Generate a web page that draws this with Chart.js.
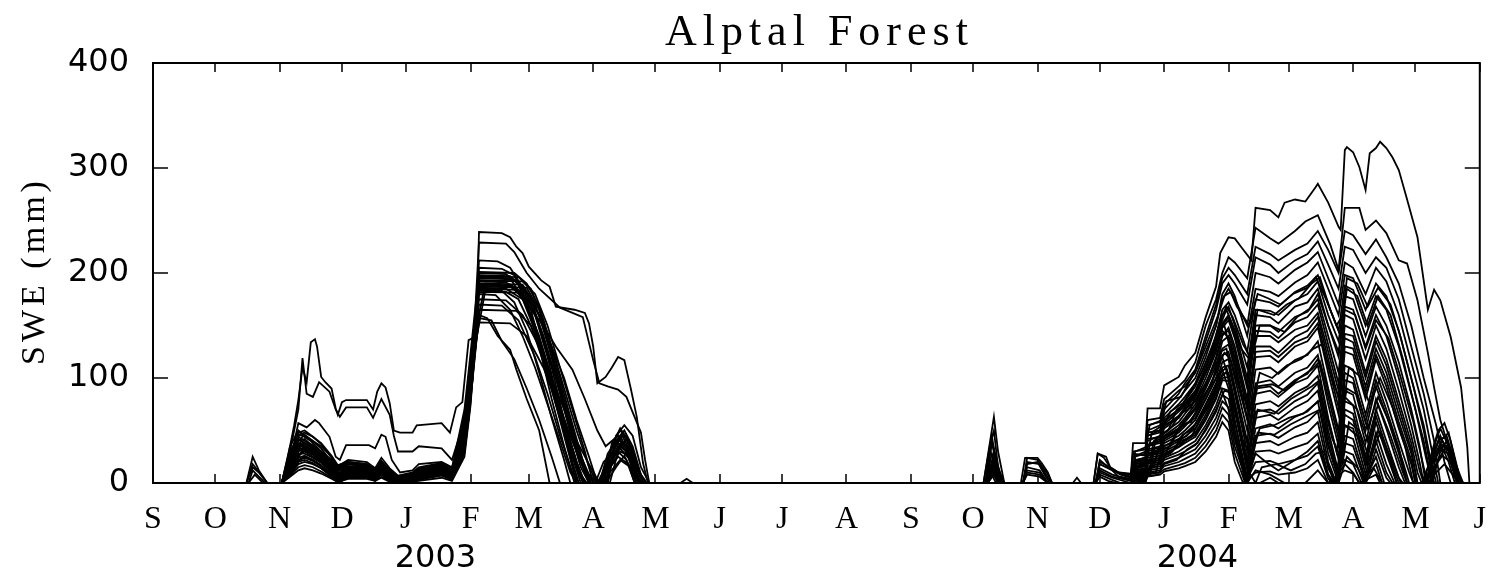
<!DOCTYPE html>
<html>
<head>
<meta charset="utf-8">
<title>Alptal Forest</title>
<script src="https://cdn.jsdelivr.net/npm/chart.js@4.4.0/dist/chart.umd.min.js"></script>
<style>
  html, body { margin: 0; padding: 0; background: #fff; }
  canvas { display: block; }
</style>
</head>
<body>
<canvas id="sweChart" width="1495" height="573"></canvas>
<script>
// x axis: days since 1 Sep 2002, y axis: snow water equivalent in mm
const monthStarts = [0, 30, 61, 91, 122, 153, 181, 212, 242, 273, 303, 334, 365, 395, 426, 456, 487, 518, 547, 578, 608, 639];
const monthLetters = ['S', 'O', 'N', 'D', 'J', 'F', 'M', 'A', 'M', 'J', 'J', 'A', 'S', 'O', 'N', 'D', 'J', 'F', 'M', 'A', 'M', 'J'];
const sweTicks = [0, 100, 200, 300, 400];
const years = ['2003', '2004'];
const yearDays = [136, 503];

// winter 2002/03, one array per site: [day, SWE]
const s03_01 = [[62,0],[65,25],[68,55],[70,79],[72,110],[74,96],[76,134],[78,137],[79,130],[81,101],[83,96],[86,90],[88,71],[89,65],[91,77],[93,79],[103,79],[106,70],[108,87],[110,95],[112,91],[114,76],[116,50],[119,48],[125,48],[127,55],[139,57],[143,48],[146,72],[149,77],[152,136],[155,139],[156,155],[157,239],[168,238],[172,234],[175,225],[178,219],[181,206],[187,193],[191,187],[194,168],[203,165],[208,162],[210,152],[212,130],[214,95],[218,101],[221,110],[224,120],[227,117],[230,91],[233,63],[236,19],[238,3],[239,0]];
const s03_02 = [[62,0],[66,30],[70,70],[72,119],[74,85],[77,82],[80,96],[85,87],[88,70],[90,63],[93,72],[103,72],[106,62],[110,80],[114,65],[116,45],[118,30],[125,30],[128,35],[139,33],[144,22],[150,60],[154,120],[157,229],[170,228],[174,220],[180,200],[186,185],[196,167],[207,158],[212,117],[215,95],[219,92],[224,89],[228,82],[235,48],[237,22],[239,0]];
const s03_03 = [[62,0],[66,20],[70,57],[74,53],[78,60],[80,57],[85,44],[88,25],[90,22],[93,36],[104,36],[107,33],[110,46],[112,44],[115,22],[119,10],[125,12],[128,18],[139,20],[144,15],[150,55],[154,110],[157,212],[166,211],[172,205],[180,180],[186,160],[192,130],[198,100],[204,60],[210,25],[214,0]];
const s03_04 = [[62,0],[66,15],[72,39],[76,36],[81,28],[87,15],[90,8],[94,18],[103,16],[108,12],[110,20],[115,8],[119,3],[125,5],[139,10],[144,8],[150,40],[154,100],[157,205],[168,204],[174,198],[180,170],[186,130],[192,80],[198,35],[203,0]];
const s03_05 = [[45,0],[48,25],[51,12],[55,0],[62,0],[66,35],[70,50],[73,45],[77,40],[81,35],[86,25],[89,16],[94,22],[103,20],[107,14],[110,24],[114,14],[118,7],[125,10],[128,15],[139,19],[144,14],[150,70],[153,125],[157,200],[170,199],[176,190],[182,165],[188,120],[194,75],[200,30],[204,0],[215,0],[219,22],[224,38],[228,30],[233,5],[235,0]];
const s03_06 = [[45,0],[48,18],[52,8],[55,0],[62,0],[66,28],[70,46],[73,48],[77,44],[81,38],[86,26],[89,17],[94,20],[103,18],[107,13],[110,21],[114,12],[118,6],[125,8],[128,13],[139,17],[144,12],[150,60],[153,115],[157,198],[172,197],[178,185],[184,160],[190,120],[196,70],[202,25],[206,0],[214,0],[218,15],[222,32],[226,48],[230,34],[234,10],[236,0]];
const s03_07 = [[46,0],[48,12],[51,6],[54,0],[62,0],[66,22],[70,40],[73,42],[77,35],[81,30],[86,20],[89,12],[94,18],[103,16],[107,12],[110,19],[114,10],[118,4],[125,7],[128,12],[139,16],[144,11],[150,55],[153,110],[157,195],[174,194],[180,180],[186,150],[192,110],[198,60],[204,20],[208,0],[216,0],[220,25],[224,42],[228,36],[232,14],[235,0]];
const s03_08 = [[62,0],[66,18],[70,35],[73,38],[77,32],[81,26],[86,16],[89,9],[94,15],[103,14],[107,9],[110,16],[114,8],[118,3],[125,6],[128,11],[139,15],[144,10],[150,50],[153,105],[157,193],[176,192],[182,175],[188,140],[194,100],[200,55],[206,15],[210,0],[217,0],[221,18],[225,30],[229,26],[233,6],[235,0]];
const s03_09 = [[46,0],[49,8],[53,0],[62,0],[66,15],[70,30],[73,33],[77,28],[81,22],[86,13],[89,6],[94,13],[103,12],[107,8],[110,15],[114,7],[118,2],[125,4],[128,10],[139,14],[144,9],[150,45],[153,100],[157,192],[170,191],[176,184],[182,160],[188,125],[194,85],[200,45],[206,8],[209,0],[216,0],[220,30],[225,45],[230,25],[234,0]];
const s03_10 = [[62,0],[66,12],[70,26],[73,30],[77,25],[81,20],[86,10],[89,4],[94,10],[103,10],[107,6],[110,12],[114,5],[118,0],[125,3],[128,8],[139,12],[144,7],[150,40],[153,95],[157,190],[178,189],[184,170],[190,135],[196,90],[202,45],[208,10],[211,0],[217,0],[221,35],[225,52],[229,40],[234,10],[237,0],[254,0],[257,4],[260,0]];
const s03_11 = [[45,0],[48,15],[51,10],[55,0],[62,0],[66,30],[70,44],[73,40],[77,36],[81,30],[86,22],[89,14],[94,19],[103,17],[107,11],[110,20],[114,12],[118,5],[125,8],[128,13],[139,17],[144,12],[150,65],[153,118],[157,188],[172,187],[178,178],[184,150],[190,110],[196,65],[202,20],[205,0],[213,0],[217,20],[221,28],[226,45],[230,30],[234,0]];
const s03_12 = [[62,0],[66,10],[70,22],[73,25],[77,22],[81,17],[86,8],[89,3],[94,8],[103,8],[107,5],[110,10],[114,4],[118,0],[125,2],[128,6],[139,10],[144,6],[150,35],[153,90],[157,187],[180,186],[186,165],[192,125],[198,80],[204,38],[210,5],[213,0],[218,0],[222,28],[226,40],[231,22],[236,0]];
const s03_13 = [[62,0],[66,8],[70,18],[73,20],[77,18],[81,14],[86,6],[89,2],[94,6],[103,6],[107,3],[110,8],[114,2],[118,0],[125,1],[128,4],[139,8],[144,4],[150,30],[153,85],[157,185],[176,184],[182,170],[188,140],[194,100],[200,60],[206,22],[212,0],[218,0],[222,33],[226,46],[230,38],[234,12],[237,0]];
const s03_14 = [[62,0],[66,20],[70,38],[73,36],[77,30],[81,24],[86,14],[89,7],[94,14],[103,13],[107,9],[110,15],[114,8],[118,2],[125,5],[128,10],[139,14],[144,9],[150,48],[153,102],[157,184],[168,183],[174,172],[180,145],[186,105],[192,62],[198,22],[201,0],[214,0],[219,12],[224,25],[229,18],[232,0]];
const s03_15 = [[62,0],[66,25],[70,42],[73,38],[77,33],[81,27],[86,18],[89,11],[94,16],[103,15],[107,10],[110,17],[114,10],[118,4],[125,7],[128,12],[139,16],[144,11],[150,52],[153,108],[157,182],[180,181],[186,160],[192,120],[198,75],[204,35],[210,8],[214,0],[219,0],[223,40],[227,50],[231,35],[235,8],[238,0]];
const s03_16 = [[62,0],[66,14],[70,28],[73,28],[77,24],[81,19],[86,11],[89,5],[94,11],[103,11],[107,7],[110,13],[114,6],[118,1],[125,3],[128,8],[139,12],[144,7],[150,42],[153,96],[157,180],[165,179],[172,165],[178,140],[184,110],[190,75],[196,40],[201,10],[204,0],[215,0],[219,28],[223,40],[227,33],[231,20],[235,0]];
const s03_17 = [[62,0],[66,12],[70,24],[73,26],[77,22],[81,16],[86,9],[89,3],[94,9],[103,9],[107,5],[110,11],[114,5],[118,0],[125,2],[128,7],[139,11],[144,6],[150,38],[153,92],[157,160],[161,157],[166,140],[172,127],[175,108],[180,80],[186,50],[191,0]];
const s03_18 = [[62,0],[66,9],[70,20],[73,22],[77,19],[81,14],[86,7],[89,2],[94,7],[103,7],[107,4],[110,9],[114,3],[118,0],[125,1],[128,5],[139,9],[144,5],[150,33],[153,88],[157,157],[163,155],[168,135],[174,118],[180,90],[186,60],[192,25],[196,0]];
const s03_19 = [[62,0],[66,16],[70,32],[73,34],[77,29],[81,23],[86,13],[89,6],[94,14],[103,13],[107,8],[110,15],[114,8],[118,2],[125,4],[128,9],[139,13],[144,8],[150,44],[153,98],[157,196],[172,195],[180,170],[188,150],[194,130],[202,108],[208,80],[214,50],[218,35],[224,45],[230,20],[235,0]];
const s03_20 = [[62,0],[66,18],[70,34],[73,36],[77,31],[81,25],[86,15],[89,8],[94,15],[103,13],[107,9],[110,16],[114,9],[118,3],[125,5],[128,10],[139,14],[144,9],[150,47],[153,103],[157,175],[170,174],[178,160],[186,130],[192,100],[198,70],[204,40],[210,18],[215,0],[219,0],[223,45],[227,55],[231,45],[235,15],[239,0]];
const s03_21 = [[62,0],[66,11],[70,21],[73,24],[77,21],[81,16],[86,8],[89,2],[94,8],[103,8],[107,4],[110,10],[114,4],[118,0],[125,2],[128,6],[139,11],[144,6],[150,37],[153,90],[157,170],[168,169],[176,155],[184,120],[190,85],[196,45],[202,10],[205,0],[216,0],[220,10],[225,22],[230,15],[233,0]];
const s03_22 = [[62,0],[66,7],[70,15],[73,17],[77,15],[81,11],[86,5],[89,1],[94,5],[103,5],[107,2],[110,6],[114,2],[118,0],[125,0],[128,3],[139,7],[144,3],[150,28],[153,80],[157,165],[175,164],[182,150],[188,120],[194,85],[200,50],[206,20],[211,0],[218,0],[222,25],[226,38],[230,30],[234,0]];
const s03_23 = [[62,0],[66,22],[70,36],[73,34],[77,28],[81,22],[86,12],[89,5],[94,12],[103,12],[107,7],[110,14],[114,7],[118,1],[125,4],[128,9],[139,14],[144,8],[150,46],[153,100],[157,153],[172,152],[180,140],[188,110],[196,70],[204,30],[210,0],[218,0],[223,15],[227,26],[231,10],[233,0]];
const s03_24 = [[62,0],[66,13],[70,27],[73,31],[77,27],[81,21],[86,12],[89,6],[94,12],[103,12],[107,8],[110,14],[114,7],[118,2],[125,4],[128,9],[139,13],[144,8],[150,43],[153,97],[157,193],[178,192],[184,180],[190,150],[196,110],[202,70],[208,30],[212,0],[217,0],[221,38],[225,50],[228,44],[232,25],[236,0]];
const s03_25 = [[62,0],[66,17],[70,31],[73,32],[77,27],[81,21],[86,12],[89,5],[94,13],[103,12],[107,8],[110,15],[114,7],[118,2],[125,4],[128,9],[139,13],[144,8],[150,44],[153,99],[157,201],[174,200],[180,190],[186,168],[192,130],[198,90],[204,50],[210,15],[214,0],[220,0],[224,30],[228,42],[232,20],[236,0]];
const s03_26 = [[62,0],[66,24],[70,45],[73,46],[77,40],[81,33],[86,20],[89,12],[94,18],[103,16],[107,11],[110,18],[114,10],[118,4],[125,7],[128,12],[139,16],[144,11],[150,58],[153,112],[157,197],[176,196],[182,185],[188,155],[194,115],[200,70],[206,28],[210,0]];
const s03_27 = [[62,0],[66,26],[70,48],[73,50],[77,44],[81,37],[86,24],[89,15],[94,20],[103,18],[107,12],[110,20],[114,12],[118,6],[125,9],[128,14],[139,18],[144,12],[150,62],[153,118],[157,189],[173,188],[180,170],[186,140],[192,100],[198,60],[204,20],[208,0],[216,0],[220,20],[225,35],[229,28],[233,0]];
const s03_28 = [[62,0],[66,6],[70,12],[73,14],[77,12],[81,9],[86,4],[89,1],[94,4],[103,4],[107,2],[110,5],[114,1],[118,0],[128,2],[139,5],[144,2],[150,25],[153,75],[157,186],[170,185],[178,175],[184,145],[190,105],[196,65],[202,28],[207,0],[216,0],[220,20],[224,35],[229,24],[233,0]];
const s03_29 = [[62,0],[65,12],[69,28],[72,45],[76,40],[80,32],[84,22],[88,12],[92,16],[100,14],[105,10],[110,17],[113,10],[117,4],[122,6],[130,12],[138,15],[143,10],[148,30],[152,70],[156,150],[160,190],[172,189],[178,176],[184,148],[190,108],[196,62],[202,18],[205,0]];
const s03_30 = [[62,0],[65,8],[69,20],[72,32],[76,30],[80,24],[84,16],[88,8],[92,12],[100,11],[105,7],[110,13],[113,7],[117,2],[122,4],[130,9],[138,12],[143,7],[148,22],[152,60],[156,140],[160,183],[170,182],[176,175],[182,150],[188,115],[194,75],[200,35],[206,5],[208,0],[216,0],[220,18],[224,30],[228,22],[232,0]];

// winter 2003/04
const s04_01 = [[400,0],[402,25],[405,63],[407,30],[410,0],[418,0],[420,24],[426,24],[428,19],[431,10],[433,0],[453,0],[455,28],[459,25],[461,15],[465,10],[471,8],[472,38],[478,38],[479,71],[485,71],[487,93],[494,101],[497,112],[502,124],[507,158],[512,187],[514,219],[518,234],[521,233],[524,225],[529,212],[531,262],[538,260],[542,253],[545,267],[550,270],[555,268],[560,282],[561,285],[566,267],[571,244],[572,241],[574,317],[575,320],[578,315],[581,301],[584,279],[586,314],[589,319],[591,325],[594,319],[597,310],[600,298],[604,270],[609,234],[614,165],[617,184],[620,174],[625,139],[630,91],[633,34],[634,0]];
const s04_02 = [[401,0],[404,45],[406,20],[409,0],[419,0],[421,20],[427,18],[431,5],[433,0],[454,0],[456,22],[460,15],[466,8],[471,5],[472,30],[478,32],[479,60],[485,62],[487,80],[494,92],[497,98],[502,115],[507,150],[512,175],[515,200],[518,215],[521,210],[527,195],[531,243],[538,233],[542,228],[550,240],[555,249],[561,255],[564,241],[567,227],[571,203],[574,262],[581,262],[584,241],[589,250],[594,238],[600,212],[604,209],[609,174],[614,124],[617,91],[620,60],[625,28],[628,0]];
const s04_03 = [[401,0],[404,38],[407,12],[409,0],[472,0],[473,25],[478,28],[479,50],[485,55],[487,70],[494,85],[497,95],[502,108],[507,140],[512,170],[515,195],[518,205],[521,198],[527,180],[531,225],[538,218],[542,212],[550,222],[556,228],[561,240],[566,222],[571,200],[574,240],[578,236],[584,218],[589,232],[594,215],[600,190],[606,150],[612,100],[618,55],[622,20],[625,0]];
const s04_04 = [[402,0],[405,30],[408,0],[454,0],[456,18],[462,12],[471,6],[472,28],[478,26],[479,55],[485,58],[487,75],[494,88],[497,92],[502,105],[507,135],[512,165],[515,190],[518,198],[521,190],[527,170],[531,215],[538,208],[542,200],[550,212],[556,218],[561,230],[566,208],[571,185],[574,225],[578,222],[584,200],[589,215],[594,205],[600,175],[606,130],[612,85],[617,40],[620,0]];
const s04_05 = [[472,0],[473,20],[478,22],[479,45],[485,50],[487,65],[494,80],[497,88],[502,100],[507,125],[512,150],[515,175],[518,185],[521,175],[527,150],[531,200],[538,196],[542,190],[550,203],[556,210],[561,220],[566,195],[571,170],[574,210],[578,205],[584,180],[589,205],[594,192],[600,160],[606,115],[612,70],[616,30],[619,0]];
const s04_06 = [[401,0],[404,28],[407,10],[409,0],[419,0],[421,15],[427,12],[431,0],[472,0],[473,22],[478,24],[479,48],[485,50],[487,62],[494,75],[497,82],[502,95],[507,120],[512,150],[515,180],[518,190],[521,178],[527,140],[531,185],[538,182],[542,178],[550,191],[556,198],[561,210],[566,185],[571,160],[574,198],[578,195],[584,165],[589,190],[594,178],[600,145],[606,100],[612,55],[615,25],[618,0]];
const s04_07 = [[472,0],[473,18],[478,20],[479,40],[485,45],[487,58],[494,70],[497,78],[502,92],[507,115],[512,140],[515,165],[518,172],[521,160],[527,125],[531,175],[538,172],[542,168],[550,182],[556,188],[561,198],[566,170],[571,145],[574,188],[578,184],[584,150],[589,178],[594,165],[600,130],[606,85],[612,40],[615,10],[617,0]];
const s04_08 = [[402,0],[405,22],[407,8],[409,0],[454,0],[456,14],[462,8],[471,3],[472,20],[478,22],[479,42],[485,44],[487,56],[494,68],[497,74],[502,86],[507,110],[512,135],[515,160],[518,168],[521,150],[527,110],[531,165],[538,164],[542,160],[550,174],[556,180],[561,192],[566,160],[571,135],[574,178],[578,175],[584,140],[589,168],[594,150],[600,115],[606,70],[610,35],[613,0]];
const s04_09 = [[472,0],[473,15],[478,17],[479,36],[485,40],[487,52],[494,62],[497,70],[502,82],[507,105],[512,130],[515,152],[518,160],[521,145],[527,100],[531,160],[538,158],[542,152],[550,168],[556,172],[561,185],[566,150],[571,120],[574,168],[578,165],[584,130],[589,160],[594,140],[600,100],[606,55],[610,20],[612,0]];
const s04_10 = [[401,0],[404,20],[407,5],[409,0],[419,0],[421,12],[427,10],[431,0],[472,0],[473,16],[478,18],[479,35],[485,38],[487,48],[494,58],[497,66],[502,78],[507,100],[512,125],[515,148],[518,155],[521,138],[527,90],[531,150],[538,150],[542,144],[550,158],[556,163],[561,175],[566,140],[571,105],[574,160],[578,156],[584,118],[589,150],[594,128],[600,88],[606,45],[610,12],[612,0]];
const s04_11 = [[472,0],[473,12],[478,14],[479,30],[485,34],[487,45],[494,55],[497,62],[502,75],[507,95],[512,118],[515,140],[518,148],[521,130],[527,80],[531,145],[538,144],[542,138],[550,153],[556,158],[561,170],[566,132],[571,95],[574,150],[578,146],[584,105],[589,140],[594,118],[600,78],[606,38],[609,10],[611,0],[614,0],[617,30],[620,45],[624,25],[628,0]];
const s04_12 = [[402,0],[405,15],[408,0],[454,0],[456,10],[462,5],[471,0],[472,14],[478,16],[479,32],[485,35],[487,44],[494,52],[497,58],[502,70],[507,90],[512,112],[515,135],[518,140],[521,120],[527,70],[531,130],[538,130],[542,124],[550,139],[556,145],[561,158],[566,118],[571,80],[574,138],[578,134],[584,92],[589,128],[594,105],[600,65],[606,28],[609,0],[614,0],[617,35],[620,52],[624,35],[629,0]];
const s04_13 = [[472,0],[473,10],[478,12],[479,28],[485,30],[487,40],[494,48],[497,54],[502,65],[507,85],[512,105],[515,128],[518,132],[521,110],[527,60],[531,120],[538,121],[542,115],[550,130],[556,135],[561,148],[566,105],[571,65],[574,125],[578,122],[584,80],[589,118],[594,92],[600,52],[606,18],[608,0]];
const s04_14 = [[401,0],[404,12],[407,0],[419,0],[421,8],[427,6],[431,0],[472,0],[473,12],[478,13],[479,26],[485,28],[487,38],[494,45],[497,50],[502,60],[507,80],[512,100],[515,122],[518,125],[521,100],[527,50],[531,108],[538,110],[542,104],[550,117],[556,122],[561,135],[566,90],[571,50],[574,112],[578,108],[584,65],[589,105],[594,78],[600,40],[605,10],[607,0],[613,0],[617,25],[620,38],[624,20],[627,0]];
const s04_15 = [[472,0],[473,9],[478,10],[479,24],[485,26],[487,35],[494,42],[497,47],[502,56],[507,75],[512,95],[515,115],[518,118],[521,92],[527,40],[531,95],[538,98],[542,92],[550,105],[556,110],[561,122],[566,75],[571,35],[574,98],[578,95],[584,50],[589,92],[594,65],[600,28],[604,0]];
const s04_16 = [[402,0],[405,10],[408,0],[454,0],[456,8],[462,3],[466,0],[472,0],[473,8],[478,9],[479,22],[485,24],[487,32],[494,40],[497,44],[502,52],[507,70],[512,90],[515,110],[518,112],[521,85],[527,30],[531,85],[538,88],[542,82],[550,95],[556,100],[561,112],[566,62],[571,22],[574,88],[578,84],[584,38],[589,80],[594,52],[600,15],[603,0],[612,0],[616,30],[619,50],[622,57],[625,40],[630,0]];
const s04_17 = [[472,0],[473,7],[478,8],[479,20],[485,22],[487,30],[494,37],[497,41],[502,48],[507,65],[512,85],[515,104],[518,105],[521,76],[527,20],[531,75],[538,78],[542,73],[550,86],[556,92],[561,102],[566,50],[571,10],[574,78],[578,74],[584,25],[589,70],[594,40],[600,5],[602,0]];
const s04_18 = [[401,0],[404,8],[406,0],[472,0],[473,6],[478,7],[479,18],[485,20],[487,27],[494,34],[497,38],[502,44],[507,60],[512,80],[515,98],[518,97],[521,68],[527,12],[531,62],[538,65],[542,60],[550,72],[556,78],[561,88],[566,38],[571,3],[574,65],[578,60],[584,15],[589,58],[594,28],[599,0],[611,0],[615,20],[619,40],[623,45],[627,20],[631,0]];
const s04_19 = [[472,0],[473,5],[478,6],[479,16],[485,18],[487,24],[494,30],[497,34],[502,40],[507,55],[512,74],[515,90],[518,88],[521,58],[527,6],[531,52],[538,56],[542,52],[550,63],[556,68],[561,78],[566,28],[571,0],[574,55],[578,52],[584,8],[589,48],[594,18],[598,0]];
const s04_20 = [[454,0],[456,6],[460,2],[464,0],[472,0],[473,4],[478,5],[479,14],[485,16],[487,22],[494,27],[497,30],[502,36],[507,50],[512,68],[515,84],[518,80],[521,50],[527,2],[531,45],[538,47],[542,43],[550,53],[556,58],[561,68],[566,20],[570,0],[574,45],[578,42],[584,3],[589,40],[594,10],[597,0],[612,0],[616,18],[620,32],[624,28],[628,8],[631,0]];
const s04_21 = [[472,0],[473,3],[478,4],[479,12],[485,14],[487,19],[494,24],[497,27],[502,32],[507,45],[512,62],[515,78],[518,72],[521,42],[527,0],[531,38],[538,40],[542,36],[550,44],[556,48],[561,58],[566,14],[570,0],[574,38],[578,35],[584,0],[589,32],[594,5],[596,0]];
const s04_22 = [[402,0],[405,8],[407,0],[472,0],[473,3],[478,3],[479,10],[485,12],[487,16],[494,20],[497,23],[502,28],[507,40],[512,56],[515,72],[518,65],[521,35],[527,0],[531,30],[538,31],[542,28],[550,34],[556,38],[561,47],[566,8],[569,0],[574,30],[578,27],[583,0],[589,25],[593,0],[613,0],[617,15],[621,26],[625,20],[629,0]];
const s04_23 = [[472,0],[473,2],[478,2],[479,8],[485,10],[487,13],[494,17],[497,19],[502,24],[507,35],[512,50],[515,65],[518,58],[521,28],[526,0],[531,20],[538,21],[542,18],[550,22],[556,26],[561,35],[566,4],[568,0],[574,22],[578,18],[582,0],[589,18],[592,0]];
const s04_24 = [[472,0],[478,2],[479,6],[485,8],[487,11],[494,14],[497,16],[502,20],[507,30],[512,44],[515,58],[518,50],[521,20],[525,0],[531,10],[538,11],[542,8],[550,10],[556,14],[561,22],[566,0],[574,12],[578,9],[581,0],[589,8],[591,0],[614,0],[618,10],[622,18],[626,8],[629,0]];
const s04_25 = [[400,0],[403,35],[405,50],[407,15],[410,0],[419,0],[421,24],[426,22],[431,8],[433,0],[443,0],[445,5],[447,0],[453,0],[455,28],[458,24],[461,15],[465,10],[471,9],[472,20],[478,22],[479,35],[485,40],[487,55],[494,62],[497,70],[502,78],[507,95],[512,115],[515,120],[518,100],[521,60],[527,0],[531,12],[538,8],[545,0],[555,0],[561,12],[566,0]];
const s04_26 = [[401,0],[404,40],[406,25],[409,0],[419,0],[421,18],[426,20],[430,6],[432,0],[454,0],[456,20],[460,16],[465,6],[471,4],[472,12],[478,14],[479,26],[485,30],[487,42],[494,50],[497,56],[502,62],[507,80],[512,100],[515,108],[518,90],[521,50],[526,0],[533,0],[538,5],[542,0]];
const s04_27 = [[454,0],[456,12],[462,6],[471,2],[472,25],[478,30],[479,45],[485,48],[487,60],[494,70],[497,76],[502,88],[507,110],[512,132],[515,145],[518,138],[521,115],[527,62],[531,90],[538,92],[542,85],[550,98],[556,104],[561,118],[566,82],[571,42],[574,105],[578,100],[584,58],[589,98],[594,70],[600,34],[604,0],[615,0],[618,25],[621,42],[624,48],[627,22],[630,0]];
const s04_28 = [[402,0],[405,18],[407,6],[409,0],[419,0],[421,10],[427,8],[431,0],[472,0],[473,18],[478,20],[479,36],[485,42],[487,54],[494,64],[497,72],[502,84],[507,105],[512,128],[515,150],[518,158],[521,140],[527,95],[531,140],[538,140],[542,134],[550,146],[556,150],[561,162],[566,125],[571,88],[574,142],[578,140],[584,100],[589,135],[594,112],[600,72],[606,32],[609,0]];
const s04_29 = [[472,0],[473,14],[478,16],[479,28],[485,32],[487,42],[494,52],[497,60],[502,72],[507,92],[512,120],[515,142],[518,145],[521,125],[527,75],[531,125],[538,126],[542,120],[550,134],[556,139],[561,152],[566,112],[571,72],[574,130],[578,128],[584,86],[589,122],[594,98],[600,58],[606,22],[608,0],[613,0],[617,28],[620,44],[624,30],[628,0]];
const s04_30 = [[401,0],[404,15],[407,4],[409,0],[472,0],[473,8],[478,10],[479,20],[485,22],[487,28],[494,35],[497,40],[502,46],[507,62],[512,82],[515,100],[518,101],[521,72],[527,16],[531,68],[538,70],[542,66],[550,78],[556,84],[561,95],[566,44],[571,6],[574,70],[578,66],[584,20],[589,64],[594,34],[599,0]];
const s04_31 = [[472,0],[474,10],[480,12],[482,30],[490,35],[495,55],[500,58],[505,80],[510,95],[514,125],[517,128],[520,100],[524,60],[528,30],[532,70],[540,66],[548,80],[558,92],[562,98],[566,60],[570,30],[574,82],[580,70],[585,40],[590,75],[596,45],[602,10],[604,0]];
const s04_32 = [[472,0],[474,6],[480,8],[482,22],[490,28],[495,40],[500,44],[505,62],[510,78],[514,100],[517,106],[520,82],[524,45],[528,18],[532,48],[540,46],[548,56],[558,66],[562,70],[566,35],[570,10],[574,55],[580,45],[585,18],[590,50],[596,22],[600,0]];
const s04_33 = [[472,0],[474,16],[480,20],[482,40],[490,52],[495,66],[500,72],[505,96],[510,118],[514,150],[517,165],[520,150],[524,128],[528,118],[532,165],[540,160],[546,170],[552,176],[558,190],[562,196],[567,165],[572,140],[575,185],[580,178],[585,150],[590,178],[596,160],[602,118],[608,70],[613,25],[616,0]];
const s04_34 = [[478,0],[480,15],[486,20],[490,38],[498,45],[504,62],[510,80],[514,92],[518,70],[522,35],[527,5],[531,28],[536,20],[542,12],[550,22],[556,30],[561,40],[565,12],[568,0],[574,18],[578,10],[581,0]];
const s04_35 = [[472,0],[475,18],[481,22],[483,42],[489,50],[493,70],[499,78],[504,92],[509,120],[513,145],[516,150],[520,118],[524,85],[529,70],[533,105],[539,100],[546,112],[553,118],[559,128],[563,132],[568,98],[573,72],[576,110],[581,102],[586,75],[591,100],[597,72],[603,35],[607,0],[616,0],[620,30],[623,40],[627,15],[630,0]];
const s04_36 = [[474,0],[476,8],[483,10],[485,25],[491,30],[496,46],[501,52],[506,70],[511,88],[514,105],[517,110],[520,85],[525,40],[529,25],[533,52],[540,55],[547,62],[554,66],[559,74],[563,80],[568,42],[573,20],[576,58],[581,50],[586,22],[591,48],[597,20],[601,0]];
const s04_37 = [[472,0],[473,30],[478,34],[480,55],[486,60],[488,78],[495,82],[499,96],[503,110],[508,135],[513,160],[516,178],[519,182],[522,168],[528,150],[532,180],[537,176],[543,170],[549,180],[556,186],[560,196],[565,175],[570,150],[573,160],[575,195],[580,190],[585,168],[590,186],[596,170],[601,138],[607,92],[612,50],[615,18],[617,0]];
const s04_38 = [[476,0],[478,6],[484,8],[487,18],[493,22],[498,32],[503,38],[508,55],[512,70],[516,88],[519,86],[523,55],[528,10],[531,0],[534,15],[541,18],[548,12],[555,18],[560,28],[564,30],[568,5],[571,0],[575,25],[580,15],[584,0],[588,14],[592,0],[615,0],[619,22],[623,35],[627,18],[630,0]];
const s04_39 = [[472,0],[474,22],[479,25],[481,48],[487,56],[490,68],[496,76],[500,88],[505,105],[510,128],[514,155],[517,168],[520,158],[525,132],[529,118],[533,150],[538,150],[545,144],[551,158],[557,166],[561,180],[566,150],[571,125],[574,165],[579,160],[584,128],[589,155],[595,138],[601,100],[607,58],[612,15],[614,0]];
const s04_40 = [[472,0],[476,12],[482,15],[484,32],[490,38],[494,52],[499,58],[504,72],[509,92],[513,112],[516,124],[519,118],[523,90],[528,55],[532,92],[539,94],[545,88],[552,100],[558,108],[562,116],[567,80],[571,48],[575,90],[580,84],[585,52],[590,82],[596,55],[602,20],[605,0],[613,0],[617,22],[621,36],[625,30],[629,5],[631,0]];

const winter2003 = [s03_01, s03_02, s03_03, s03_04, s03_05, s03_06, s03_07, s03_08, s03_09, s03_10,
  s03_11, s03_12, s03_13, s03_14, s03_15, s03_16, s03_17, s03_18, s03_19, s03_20,
  s03_21, s03_22, s03_23, s03_24, s03_25, s03_26, s03_27, s03_28, s03_29, s03_30];
const winter2004 = [s04_01, s04_02, s04_03, s04_04, s04_05, s04_06, s04_07, s04_08, s04_09, s04_10,
  s04_11, s04_12, s04_13, s04_14, s04_15, s04_16, s04_17, s04_18, s04_19, s04_20,
  s04_21, s04_22, s04_23, s04_24, s04_25, s04_26, s04_27, s04_28, s04_29, s04_30,
  s04_31, s04_32, s04_33, s04_34, s04_35, s04_36, s04_37, s04_38, s04_39, s04_40];

const datasets = winter2003.concat(winter2004).map((d, i) => ({
  label: 'site ' + (i + 1),
  data: d,
  borderColor: '#000',
  borderWidth: 1.8,
  pointRadius: 0,
  fill: false,
  tension: 0
}));

// plot frame, inward ticks and the free-standing texts
const framePlugin = {
  id: 'frame',
  afterDraw(chart) {
    const { ctx, chartArea: a, scales: { x, y } } = chart;
    ctx.save();
    ctx.strokeStyle = '#000';
    ctx.lineWidth = 2;
    ctx.strokeRect(a.left, a.top, a.right - a.left, a.bottom - a.top);

    ctx.lineWidth = 1.5;
    ctx.beginPath();
    monthStarts.forEach(d => {
      const px = Math.round(x.getPixelForValue(d));
      ctx.moveTo(px, a.bottom); ctx.lineTo(px, a.bottom - 9);
      ctx.moveTo(px, a.top); ctx.lineTo(px, a.top + 9);
    });
    sweTicks.forEach(v => {
      const py = Math.round(y.getPixelForValue(v));
      ctx.moveTo(a.left, py); ctx.lineTo(a.left + 15, py);
      ctx.moveTo(a.right, py); ctx.lineTo(a.right - 15, py);
    });
    ctx.stroke();

    ctx.fillStyle = '#000';
    ctx.textAlign = 'center';

    // title
    ctx.font = '44px "Liberation Serif"';
    ctx.letterSpacing = '6px';
    ctx.textBaseline = 'alphabetic';
    ctx.fillText('Alptal Forest', (a.left + a.right) / 2 + 3, 45);

    // y axis title
    ctx.save();
    ctx.font = '34px "Liberation Serif"';
    ctx.letterSpacing = '4px';
    ctx.textBaseline = 'middle';
    ctx.translate(35, (a.top + a.bottom) / 2);
    ctx.rotate(-Math.PI / 2);
    ctx.fillText('SWE (mm)', 2, 0);
    ctx.restore();

    // year labels under January
    ctx.letterSpacing = '0px';
    ctx.font = '32px "DejaVu Sans"';
    ctx.textBaseline = 'alphabetic';
    years.forEach((t, i) => ctx.fillText(t, x.getPixelForValue(yearDays[i]), 567));
    ctx.restore();
  }
};

new Chart(document.getElementById('sweChart'), {
  type: 'line',
  data: { datasets },
  options: {
    responsive: false,
    animation: false,
    events: [],
    layout: { padding: { top: 63, right: 13, left: 0, bottom: 0 } },
    plugins: { legend: { display: false }, title: { display: false }, tooltip: { enabled: false } },
    scales: {
      x: {
        type: 'linear',
        min: 0,
        max: 639,
        grid: { display: false },
        border: { display: false },
        afterBuildTicks: s => { s.ticks = monthStarts.map(v => ({ value: v })); },
        afterFit: s => { s.height = 90; },
        ticks: {
          autoSkip: false,
          maxRotation: 0,
          padding: 9,
          color: '#000',
          font: { family: 'Liberation Serif', size: 32 },
          callback: (v, i) => monthLetters[i]
        }
      },
      y: {
        min: 0,
        max: 400,
        grid: { display: false },
        border: { display: false },
        afterBuildTicks: s => { s.ticks = sweTicks.map(v => ({ value: v })); },
        afterFit: s => { s.width = 153; },
        ticks: {
          padding: 16,
          color: '#000',
          font: { family: 'DejaVu Sans', size: 32 }
        }
      }
    }
  },
  plugins: [framePlugin]
});
</script>
</body>
</html>
